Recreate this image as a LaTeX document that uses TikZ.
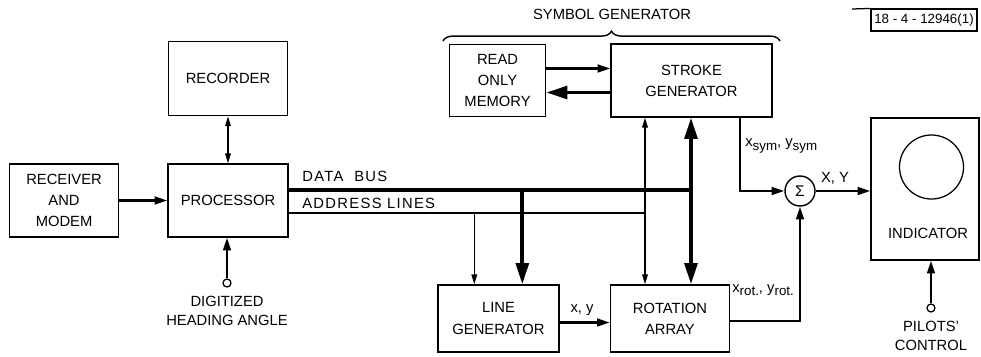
\documentclass[tikz,border=0pt]{standalone}
\usepackage{fontspec}
\setmainfont{Liberation Sans}
\usetikzlibrary{arrows.meta,positioning,decorations.pathreplacing,calc}
\newcommand{\lowsub}[1]{\raisebox{-2.6pt}{\fontsize{9.5}{10}\selectfont #1}}
\tikzset{
    % boxes and connector styles
    blockbox/.style={
        rectangle, draw, line width=1pt, align=center, inner sep=0pt,
        font=\fontsize{10.5}{15}\selectfont
    },
    terminal/.style={
        circle, draw, line width=0.9pt, minimum size=0.2cm, inner sep=0pt
    },
    thinline/.style={line width=0.9pt},
    busline/.style={line width=2.6pt},
    thinarrow/.style={-{Triangle[length=7pt,width=4pt]}, line width=0.9pt},
    thinboth/.style={{Triangle[length=7pt,width=4pt]}-{Triangle[length=7pt,width=4pt]}, line width=0.9pt},
    medarrow/.style={-{Triangle[length=9pt,width=5.5pt]}, line width=1.6pt},
    thickarrow/.style={-{Triangle[length=15pt,width=9pt]}, line width=2.6pt},
    thickboth/.style={{Triangle[length=15pt,width=9pt]}-{Triangle[length=15pt,width=9pt]}, line width=2.6pt},
    annotation/.style={inner sep=0pt, align=center, font=\fontsize{10.5}{14}\selectfont},
    buslabel/.style={inner sep=0pt, font=\fontsize{10.5}{12}\selectfont\addfontfeatures{LetterSpace=9}},
    sublabel/.style={inner sep=0pt, font=\fontsize{10.5}{12}\selectfont}
}
\begin{document}
\begin{tikzpicture}[x=0.025cm, y=-0.025cm]
\useasboundingbox (0,0) rectangle (981,356);

% Main blocks
\node[blockbox, minimum width=3cm, minimum height=1.825cm] (proc) at (228,200.5) {PROCESSOR};
\node[blockbox, minimum width=2.725cm, minimum height=1.825cm, left=1.2cm of proc] (recv) {RECEIVER\\AND\\MODEM};
\node[blockbox, minimum width=2.975cm, minimum height=1.85cm, above=1.175cm of proc] (rec) {RECORDER};

% Symbol generator
\node[blockbox, minimum width=4.025cm, minimum height=1.825cm] (stroke) at (691.5,80.5) {STROKE\\GENERATOR};
\node[blockbox, minimum width=2.4cm, minimum height=1.8cm, left=1.6cm of stroke] (rom) {READ\\ONLY\\MEMORY};

% Line and rotation
\node[blockbox, minimum width=3.025cm, minimum height=1.675cm] (linegen) at (498.5,318.5) {LINE\\GENERATOR};
\node[blockbox, minimum width=2.975cm, minimum height=1.675cm, right=1.25cm of linegen] (rot) {ROTATION\\ARRAY};

% Summing junction and indicator
\node[circle, draw, line width=1pt, minimum size=0.75cm, inner sep=0pt, font=\fontsize{11}{12}\selectfont] (sum) at (800,191) {Σ};
\node[blockbox, minimum width=2.7cm, minimum height=3.55cm] (ind) at (925,189) {};
\node[circle, draw, line width=0.9pt, minimum size=1.6cm] (crt) at (931.5,167) {};
\node[annotation] (indtext) at (928,233) {INDICATOR};

% Inputs
\node[terminal] (hdg) at (227,283) {};
\node[annotation, below=0.2cm of hdg] (hdgtext) {DIGITIZED\\HEADING ANGLE};
\node[terminal] (pilot) at (931,308) {};
\node[annotation, below=0.2cm of pilot] (pilottext) {PILOTS'\\CONTROL};

% Title, brace and drawing number
\node[annotation] (symtitle) at (612,14) {SYMBOL GENERATOR};
\coordinate (bracel) at (443,41);
\coordinate (bracer) at (780,41);
\draw[decorate, decoration={brace, amplitude=7pt}, line width=1pt] (bracel) -- (bracer);
\node[draw, line width=0.8pt, minimum width=2.65cm, minimum height=0.55cm, inner sep=0pt,
      font=\fontsize{9.5}{11}\selectfont] (tag) at (924,20) {18 - 4 - 12946(1)};
\coordinate (tagline) at (852,9);
\draw[thinline] (tagline) -- (tag.north west);

% Buses
\coordinate (dataend) at (691,190);
\coordinate (addrend) at (645,213);
\draw[busline] (proc.east |- dataend) -- (dataend);
\draw[thinline] (proc.east |- addrend) -- (addrend);
\node[buslabel, anchor=west] (dblabel) at (302,176) {DATA\ \ BUS};
\node[buslabel, anchor=west] (allabel) at (302,203) {ADDRESS LINES};

% Connections
\draw[medarrow] (recv) -- (proc);
\draw[thinboth] (rec.south) -- (rec.south |- proc.north);
\draw[medarrow] (hdg) -- (hdg |- proc.south);
\draw[medarrow] ([yshift=0.3cm]rom.east) -- ([yshift=0.3cm]rom.east -| stroke.west);
\draw[thickarrow] ([yshift=-0.3cm]rom.east -| stroke.west) -- ([yshift=-0.3cm]rom.east);
\draw[thickboth] (stroke.south -| dataend) -- (rot.north -| dataend);
\draw[thinboth] (stroke.south -| addrend) -- (rot.north -| addrend);
\draw[thinarrow] ([xshift=0.925cm]linegen.north west |- addrend) -- ([xshift=0.925cm]linegen.north west);
\draw[thickarrow] ([xshift=2.125cm]linegen.north west |- dataend) -- ([xshift=2.125cm]linegen.north west);
\draw[medarrow] ([yshift=-0.1cm]linegen.east) -- ([yshift=-0.1cm]rot.west);
\node[sublabel] (xylabel) at (582,310) {x, y};
\draw[medarrow] ([xshift=-0.825cm]stroke.south east) |- (sum.west);
\node[sublabel, anchor=west] (symlabel) at (745,146) {x\lowsub{sym}, y\lowsub{sym}};
\draw[medarrow] ([yshift=-0.06cm]rot.east) -| (sum.south);
\node[sublabel, anchor=west] (rotlabel) at (732,290) {x\lowsub{rot.}, y\lowsub{rot.}};
\draw[medarrow] (sum.east) -- (sum -| ind.west);
\node[sublabel] (XYlabel) at (835,178) {X, Y};
\draw[medarrow] (pilot) -- (pilot |- ind.south);

\end{tikzpicture}
\end{document}
